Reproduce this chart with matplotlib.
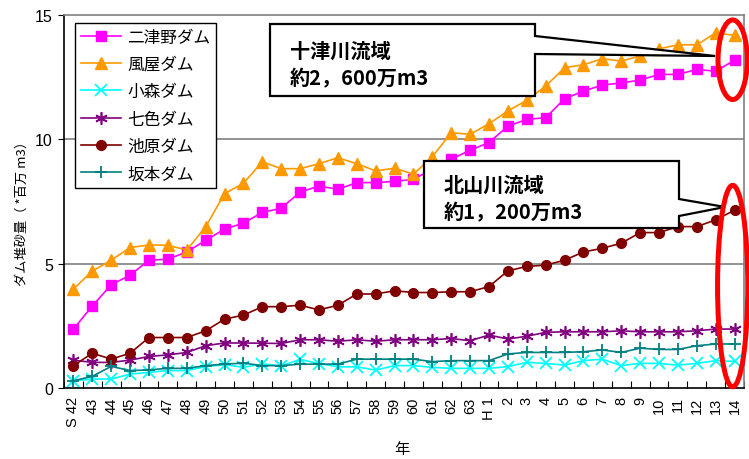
import numpy as np
import matplotlib
matplotlib.use('Agg')
import matplotlib.pyplot as plt
from matplotlib.patches import Ellipse, Polygon
from matplotlib.transforms import Affine2D

plt.rcParams['font.family'] = ['Noto Sans CJK JP', 'DejaVu Sans']

# 年 (昭和42年 ~ 平成14年)
years = ['S 42'] + [str(y) for y in range(43, 64)] + ['H 1'] + [str(y) for y in range(2, 15)]

# ダム堆砂量 (*百万m3)
futsuno = [2.37, 3.3, 4.15, 4.54, 5.14, 5.18, 5.47, 5.94, 6.39, 6.63, 7.06, 7.23,
           7.88, 8.12, 7.99, 8.26, 8.26, 8.31, 8.39, 8.8, 9.2, 9.56, 9.87, 10.53,
           10.8, 10.87, 11.63, 11.94, 12.18, 12.27, 12.38, 12.61, 12.61, 12.81, 12.74, 13.18]
kazaya = [3.98, 4.7, 5.14, 5.65, 5.75, 5.74, 5.55, 6.48, 7.82, 8.23, 9.1, 8.82,
          8.82, 9.02, 9.26, 9.02, 8.73, 8.84, 8.6, 9.3, 10.27, 10.2, 10.63, 11.14,
          11.57, 12.14, 12.88, 13.0, 13.24, 13.15, 13.35, 13.64, 13.8, 13.8, 14.28, 14.18]
komori = [0.29, 0.36, 0.36, 0.56, 0.63, 0.7, 0.7, 0.86, 0.94, 0.83, 0.97, 0.89,
          1.15, 0.98, 0.85, 0.85, 0.72, 0.9, 0.9, 0.83, 0.79, 0.79, 0.79, 0.86,
          1.03, 0.99, 0.92, 1.1, 1.16, 0.9, 0.99, 0.99, 0.92, 0.99, 1.1, 1.07]
shichiiro = [1.12, 1.03, 1.03, 1.12, 1.27, 1.33, 1.43, 1.7, 1.81, 1.81, 1.8, 1.79,
             1.94, 1.94, 1.88, 1.94, 1.88, 1.94, 1.94, 1.94, 1.99, 1.9, 2.13, 1.97,
             2.08, 2.24, 2.26, 2.26, 2.26, 2.3, 2.26, 2.26, 2.26, 2.3, 2.37, 2.37]
ikehara = [0.9, 1.4, 1.16, 1.4, 2.03, 2.03, 2.03, 2.3, 2.77, 2.93, 3.27, 3.27,
           3.33, 3.14, 3.33, 3.78, 3.78, 3.91, 3.84, 3.84, 3.87, 3.87, 4.08, 4.71,
           4.89, 4.94, 5.14, 5.47, 5.62, 5.82, 6.25, 6.25, 6.49, 6.49, 6.76, 7.15]
sakamoto = [0.29, 0.47, 0.87, 0.7, 0.73, 0.79, 0.79, 0.9, 0.96, 1.0, 0.9, 0.9,
            0.96, 0.96, 0.96, 1.16, 1.16, 1.16, 1.16, 1.06, 1.1, 1.1, 1.1, 1.37,
            1.43, 1.43, 1.43, 1.46, 1.53, 1.43, 1.6, 1.55, 1.55, 1.7, 1.77, 1.77]

names = ['二津野ダム', '風屋ダム', '小森ダム', '七色ダム', '池原ダム', '坂本ダム']
colors = ['#FF00FF', '#FF9900', '#00FFFF', '#800080', '#800000', '#008080']

fig = plt.figure(figsize=(7.49, 4.6), dpi=100)
ax = fig.add_axes([64/749, 1-389/460, 680/749, 373/460])

x = np.arange(len(years))
ax.plot(x, futsuno, color=colors[0], marker='s', ms=6.5, lw=1.2, label=names[0])
ax.plot(x, kazaya, color=colors[1], marker='^', ms=8, lw=1.2, label=names[1])
ax.plot(x, komori, color=colors[2], marker='x', ms=8, mew=1.3, lw=1.2, label=names[2])
ax.plot(x, shichiiro, color=colors[3], marker=(6, 2, 0), ms=9, mew=1.2, lw=1.2, label=names[3])
ax.plot(x, ikehara, color=colors[4], marker='o', ms=7, lw=1.2, label=names[4])
ax.plot(x, sakamoto, color=colors[5], marker='+', ms=9, mew=1.3, lw=1.2, label=names[5])

num_font = ['Liberation Sans', 'DejaVu Sans']

ax.set_xlim(-0.5, len(years) - 0.5)
ax.set_ylim(0, 15)
ax.set_yticks([0, 5, 10, 15])
ax.set_yticklabels(['0', '5', '10', '15'], family=num_font, fontsize=11.5)
ax.tick_params(axis='y', direction='out', length=4, pad=4)
for yv in (5, 10):
    ax.axhline(yv, color='#808080', lw=1.2, zorder=0)

ax.set_xticks(np.arange(-0.5, len(years), 1))
ax.set_xticklabels([])
ax.tick_params(axis='x', which='major', direction='in', length=5)
ax.set_xticks(x, minor=True)
ax.set_xticklabels(years, minor=True, rotation=90, fontsize=10.5, family=num_font)
ax.tick_params(axis='x', which='minor', length=0, pad=6)

ax.spines['top'].set_color('#808080')
ax.spines['right'].set_color('#808080')
for s in ax.spines.values():
    s.set_linewidth(1.2)

ax.set_xlabel('年', fontsize=11, va='center')
ax.xaxis.set_label_coords(0.497, -0.163)
ax.set_ylabel('ダム堆砂量（ *百万 m3）', fontsize=9.5, va='center')
ax.yaxis.set_label_coords(-0.062, 0.48)

leg = ax.legend(loc='upper left', bbox_to_anchor=(0.016, 0.979), borderaxespad=0,
                fontsize=12, handlelength=2.4, handletextpad=0.4, labelspacing=0.62,
                borderpad=0.35, fancybox=False, framealpha=1, edgecolor='black')
leg.get_frame().set_linewidth(1.0)

# callout boxes (pixel coordinates, origin top-left)
pix = Affine2D().scale(1/749, -1/460).translate(0, 1) + fig.transFigure
box1 = [(270, 25), (535, 25), (535, 37), (715, 57), (535, 55), (535, 97), (270, 97)]
box2 = [(424, 162), (679, 162), (679, 200), (725, 208), (679, 217), (679, 229), (424, 229)]
for pts in (box1, box2):
    ax.add_patch(Polygon(pts, closed=True, facecolor='white', edgecolor='black',
                         lw=1.6, transform=pix, clip_on=False, zorder=6))
ax.text(290, 51, '十津川流域', transform=pix, fontsize=14.5, fontweight='bold',
        va='center', ha='left', zorder=7)
ax.text(290, 79, '約2，600万m3', transform=pix, fontsize=14.5, fontweight='bold',
        va='center', ha='left', zorder=7)
ax.text(444, 185, '北山川流域', transform=pix, fontsize=14.5, fontweight='bold',
        va='center', ha='left', zorder=7)
ax.text(444, 213, '約1，200万m3', transform=pix, fontsize=14.5, fontweight='bold',
        va='center', ha='left', zorder=7)

# red ellipses around the latest values
ax.add_patch(Ellipse((34.9, 13.2), 1.55, 3.2, fill=False, edgecolor='red', lw=3.6,
                     clip_on=False, zorder=8))
ax.add_patch(Ellipse((34.9, 4.1), 1.6, 8.1, fill=False, edgecolor='red', lw=3.6,
                     clip_on=False, zorder=8))

fig.savefig('out.png', dpi=100)
